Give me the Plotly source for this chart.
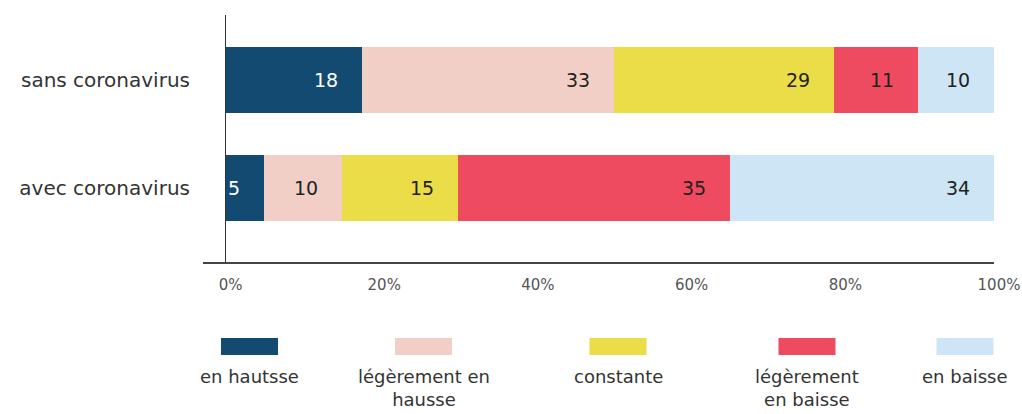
import plotly.graph_objects as go
import numpy as np

categories = ["sans coronavirus", "avec coronavirus"]
series_names = ["en hautsse", "légèrement en<br>hausse", "constante", "légèrement<br>en baisse", "en baisse"]
colors = ["#134A72", "#F2CFC6", "#EADD47", "#EF4B60", "#CDE5F4"]
text_colors = ["#FFFFFF", "#222222", "#222222", "#222222", "#222222"]
values = {
    "sans coronavirus": [18, 33, 29, 11, 10],
    "avec coronavirus": [5, 10, 15, 35, 34],
}
x_ticks = [0, 20, 40, 60, 80, 100]

FONT = "'DejaVu Sans', 'Noto Sans', sans-serif"

fig = go.Figure()
for i, name in enumerate(series_names):
    fig.add_trace(go.Bar(
        y=list(range(len(categories))),
        x=[values[c][i] for c in categories],
        orientation="h",
        name=name,
        marker=dict(color=colors[i], line=dict(width=0)),
        width=0.61,
        showlegend=False,
    ))

annotations = []
# bar value labels, right aligned near end of each segment
for ci, c in enumerate(categories):
    v = np.array(values[c], dtype=float)
    cum = np.cumsum(v) / v.sum() * 100
    for i, val in enumerate(values[c]):
        annotations.append(dict(
            x=cum[i], y=ci, xref="x", yref="y", text=str(val),
            xanchor="right", yanchor="middle", xshift=-22, showarrow=False,
            font=dict(family=FONT, size=19, color=text_colors[i]),
        ))

# custom legend below the chart
legend_px = [249.5, 423.5, 618, 807, 965]
plot_left, plot_w = 203, 791
plot_bottom, plot_h = 262, 247
shapes = []
for i, name in enumerate(series_names):
    cx = (legend_px[i] - plot_left) / plot_w
    hw = 28.5 / plot_w
    shapes.append(dict(
        type="rect", xref="paper", yref="paper",
        x0=cx - hw, x1=cx + hw,
        y0=(plot_bottom - 355) / plot_h, y1=(plot_bottom - 338) / plot_h,
        fillcolor=colors[i], line=dict(width=0),
    ))
    annotations.append(dict(
        x=cx, y=(plot_bottom - 364) / plot_h, xref="paper", yref="paper",
        text=name, xanchor="center", yanchor="top", showarrow=False, align="center",
        font=dict(family=FONT, size=18, color="#333333"),
    ))

fig.update_layout(
    barmode="stack",
    barnorm="percent",
    width=1022, height=414,
    margin=dict(l=203, r=28, t=15, b=152, autoexpand=False),
    paper_bgcolor="white", plot_bgcolor="white",
    font=dict(family=FONT, color="#333333"),
    annotations=annotations,
    shapes=shapes,
    xaxis=dict(
        range=[-2.93, 100],
        tickvals=x_ticks, ticktext=[f"{t}%" for t in x_ticks],
        showgrid=False, automargin=False,
        zeroline=True, zerolinecolor="#333333", zerolinewidth=1,
        showline=True, linecolor="#444444", linewidth=1.5,
        ticks="", ticklabelstandoff=8, ticklabelshift=5,
        tickfont=dict(family=FONT, size=15, color="#555555"),
        fixedrange=True,
    ),
    yaxis=dict(
        range=[1.685, -0.60],
        tickvals=list(range(len(categories))), ticktext=categories,
        showgrid=False, zeroline=False, showline=False, automargin=False,
        ticks="", ticklabelstandoff=12,
        tickfont=dict(family=FONT, size=20, color="#333333"),
        fixedrange=True,
    ),
)

fig.write_html("out.html")
